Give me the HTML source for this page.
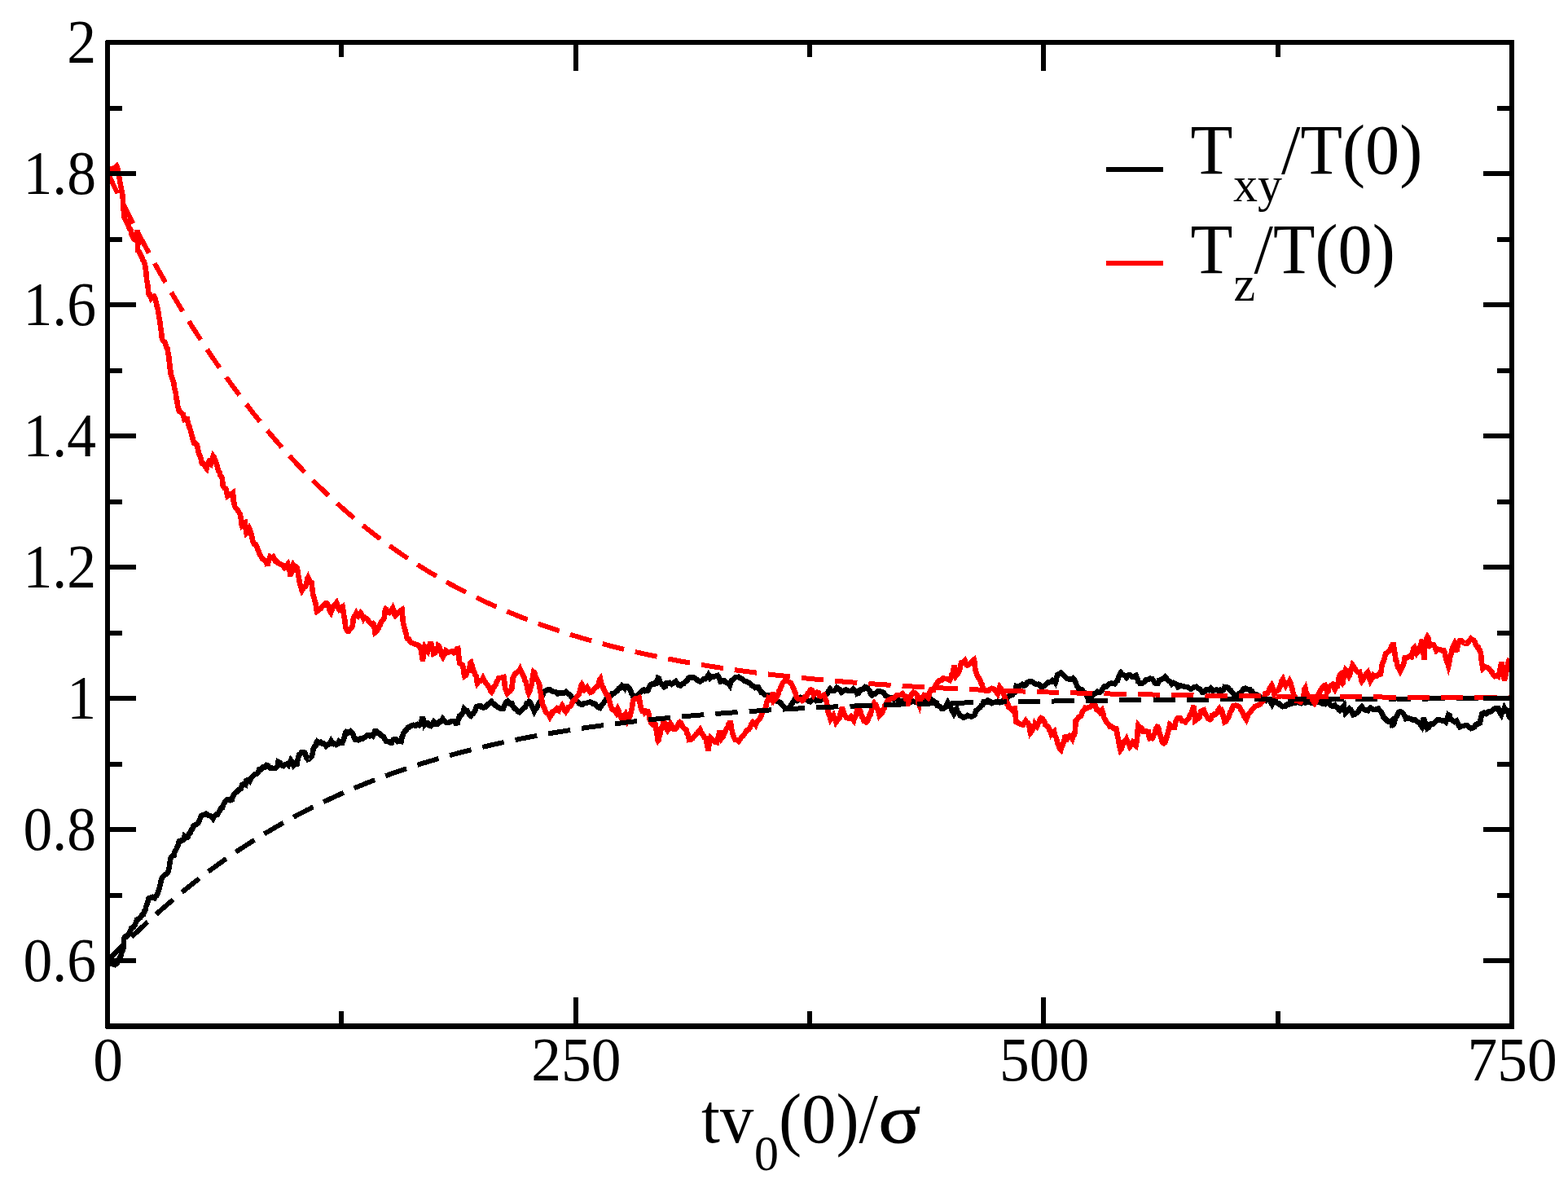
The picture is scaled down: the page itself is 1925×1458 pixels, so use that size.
<!DOCTYPE html>
<html lang="en"><head><meta charset="utf-8"><title>Temperature relaxation</title>
<style>html,body{margin:0;padding:0;background:#fff}body{width:1925px;height:1458px;overflow:hidden}svg{display:block}text{font-family:"Liberation Serif","DejaVu Serif",serif;fill:#000}</style></head><body>
<svg width="1925" height="1458" viewBox="0 0 1925 1458">
<rect width="1925" height="1458" fill="#fff"/>
<g clip-path="url(#clip)">
<defs><clipPath id="clip"><rect x="132.0" y="52.0" width="1724.0" height="1207.5"/></clipPath></defs>
<path d="M132.1,1182.1 L134.3,1182.4 L136.5,1183.1 L138.7,1183.3 L141.2,1184.0 L143.7,1182.1 L144.9,1179.5 L146.2,1177.1 L147.4,1174.9 L148.7,1172.1 L149.5,1168.7 L150.2,1167.2 L151.0,1165.0 L151.8,1162.1 L151.8,1160.5 L151.8,1155.9 L151.8,1154.1 L151.8,1152.2 L153.4,1149.7 L154.9,1149.7 L156.8,1148.1 L158.7,1144.7 L159.9,1143.2 L161.2,1139.1 L162.4,1138.4 L163.9,1137.8 L165.3,1135.7 L166.8,1132.2 L167.4,1130.8 L168.0,1128.5 L170.2,1127.6 L172.4,1126.0 L174.2,1123.1 L176.1,1122.2 L176.9,1118.7 L177.8,1118.2 L178.6,1116.0 L179.4,1112.2 L180.3,1110.1 L181.1,1108.5 L181.7,1105.7 L182.4,1103.0 L183.0,1102.3 L185.2,1101.6 L187.3,1101.0 L189.8,1102.3 L191.1,1100.0 L192.3,1099.2 L193.6,1096.1 L194.4,1093.6 L195.2,1091.5 L196.1,1088.6 L196.7,1085.7 L197.3,1083.2 L197.9,1079.8 L198.9,1077.8 L199.8,1076.1 L202.3,1073.6 L204.8,1072.4 L205.6,1071.8 L206.5,1069.7 L207.3,1066.1 L207.7,1064.7 L208.1,1061.8 L208.5,1058.6 L209.2,1055.0 L209.8,1052.4 L211.6,1050.4 L213.5,1049.9 L214.1,1047.2 L214.8,1044.5 L215.4,1043.7 L216.4,1042.4 L217.5,1039.2 L218.5,1037.5 L219.1,1036.0 L219.8,1032.5 L222.2,1031.5 L224.7,1031.2 L225.7,1030.1 L226.6,1026.2 L228.5,1027.9 L230.4,1027.5 L231.9,1023.5 L233.5,1022.5 L234.8,1018.7 L236.1,1017.9 L237.4,1013.8 L239.5,1012.4 L241.6,1011.3 L243.2,1010.2 L244.9,1006.3 L246.0,1004.0 L247.1,1001.1 L248.2,1000.5 L250.7,1000.0 L253.2,998.8 L255.7,1000.9 L258.2,1001.3 L259.8,1002.3 L261.5,1004.6 L262.9,1001.7 L264.3,1000.8 L265.7,999.6 L267.0,999.4 L268.4,997.1 L269.8,994.6 L271.5,991.8 L273.1,991.3 L274.0,988.1 L274.8,986.3 L276.5,983.5 L278.1,981.7 L279.8,981.4 L282.3,982.2 L284.8,981.4 L285.6,978.2 L286.4,977.1 L287.3,974.7 L289.4,972.9 L291.4,971.4 L293.5,968.8 L295.6,968.1 L296.4,966.3 L297.2,963.1 L299.3,962.0 L301.4,963.1 L301.8,961.0 L302.2,958.1 L304.3,957.3 L306.4,958.9 L307.5,956.7 L308.6,954.2 L309.7,953.1 L312.2,950.7 L314.7,949.8 L316.4,948.7 L318.0,944.8 L319.7,944.9 L321.4,943.1 L323.3,941.1 L325.2,941.5 L327.2,939.0 L329.2,939.8 L331.3,942.3 L333.4,942.4 L335.5,943.1 L338.0,942.9 L340.5,940.6 L341.0,938.1 L341.6,934.8 L343.5,935.7 L345.5,939.0 L347.9,940.0 L350.4,938.1 L352.1,937.7 L353.8,939.0 L354.9,936.3 L356.0,935.9 L357.1,933.1 L358.2,934.6 L359.3,936.4 L360.4,939.0 L362.5,936.9 L364.6,937.3 L365.2,933.4 L365.8,932.1 L366.4,928.4 L367.1,926.5 L368.7,925.1 L370.4,923.2 L372.5,923.2 L374.5,924.0 L375.4,926.8 L376.2,929.8 L377.9,932.0 L379.5,931.5 L381.2,929.8 L382.9,928.2 L383.4,925.6 L384.0,923.7 L384.5,919.8 L386.2,916.4 L387.8,914.9 L388.7,911.3 L389.5,909.9 L391.6,911.5 L393.7,910.7 L395.3,912.5 L397.0,912.4 L398.7,913.3 L400.3,915.7 L402.4,913.5 L404.5,913.2 L405.5,911.8 L406.5,909.6 L408.0,912.4 L409.5,913.2 L411.1,912.7 L412.8,914.0 L414.4,913.3 L416.1,909.9 L418.2,911.8 L420.3,911.5 L421.1,909.6 L421.9,906.9 L422.8,904.9 L423.6,901.5 L424.4,899.1 L425.2,898.2 L427.7,899.2 L430.2,897.4 L431.9,898.7 L433.6,901.6 L434.8,905.1 L436.1,907.4 L438.1,907.1 L440.2,908.2 L442.7,906.5 L445.2,906.7 L447.7,904.9 L449.4,903.9 L451.0,902.4 L452.7,902.2 L454.3,903.2 L456.0,902.2 L457.7,903.2 L458.9,901.0 L460.2,897.4 L462.2,897.4 L464.3,899.9 L466.0,900.3 L467.6,902.4 L469.3,903.4 L471.0,904.1 L472.1,907.0 L473.2,908.3 L474.3,909.9 L476.8,910.0 L479.3,911.5 L480.9,911.4 L482.6,907.9 L484.3,907.4 L486.3,907.2 L488.4,909.9 L490.5,909.2 L492.6,909.9 L493.1,907.5 L493.7,904.1 L494.2,903.2 L495.3,900.0 L496.5,898.4 L497.6,896.6 L499.2,895.4 L500.9,892.7 L502.5,892.4 L505.0,890.8 L507.5,889.9 L510.0,890.7 L512.5,889.1 L514.4,890.2 L516.2,888.5 L517.0,886.0 L517.9,883.2 L518.7,879.7 L519.3,882.5 L519.9,883.6 L520.6,885.8 L521.3,889.2 L523.1,887.0 L524.9,887.2 L526.8,890.3 L528.7,891.0 L530.5,889.1 L532.4,886.0 L534.9,888.6 L537.4,888.5 L539.3,885.8 L541.1,886.0 L542.4,884.5 L543.6,882.2 L545.5,884.4 L547.4,886.6 L549.9,887.0 L552.4,886.0 L554.9,885.1 L557.4,885.4 L559.5,887.8 L561.7,887.2 L562.5,883.0 L563.4,881.5 L564.2,878.5 L565.8,878.0 L567.3,876.0 L568.2,875.1 L569.0,872.6 L569.8,869.8 L571.7,871.6 L573.6,872.3 L575.0,875.2 L576.5,877.7 L577.9,878.5 L579.4,876.4 L580.8,875.7 L582.3,873.5 L583.1,872.6 L583.9,870.5 L584.8,867.3 L587.3,866.4 L589.8,866.0 L591.6,868.1 L593.5,868.5 L596.0,867.7 L598.5,864.8 L601.0,863.1 L603.5,861.0 L605.1,863.1 L606.8,864.0 L608.5,866.0 L611.0,867.8 L613.5,869.1 L615.6,869.8 L617.8,869.8 L618.9,866.0 L619.9,865.2 L620.9,862.3 L623.4,860.4 L625.9,863.5 L628.4,863.5 L629.7,866.8 L630.9,868.4 L632.2,869.8 L634.0,870.9 L635.9,873.4 L637.8,874.1 L639.6,872.5 L641.5,870.2 L643.4,868.5 L644.9,867.7 L646.5,863.5 L648.1,863.7 L649.6,861.0 L651.2,862.1 L652.7,866.0 L653.8,868.6 L654.8,870.5 L655.8,872.7 L657.2,869.9 L658.6,869.1 L659.9,866.3 L661.2,863.8 L662.4,861.7 L663.7,860.1 L664.9,856.4 L666.3,852.9 L667.7,849.4 L669.1,848.1 L672.0,846.6 L674.9,846.4 L677.4,848.2 L679.9,848.9 L682.4,849.2 L684.9,851.4 L687.4,850.0 L689.9,850.5 L692.4,850.9 L694.9,848.9 L696.9,851.0 L699.0,852.2 L700.7,854.1 L702.3,856.4 L704.4,859.2 L706.5,859.7 L708.6,860.8 L710.6,863.0 L712.7,864.3 L714.8,864.7 L717.3,862.9 L719.8,863.0 L722.3,862.0 L724.8,861.4 L727.7,863.5 L730.6,863.8 L732.5,866.7 L734.5,868.3 L736.4,868.8 L738.1,866.3 L739.7,864.6 L741.4,862.2 L743.1,859.7 L744.7,857.2 L746.4,856.4 L748.1,854.7 L749.7,854.1 L751.4,851.4 L753.9,851.2 L756.4,848.9 L758.0,847.4 L759.7,844.7 L761.8,844.4 L763.8,841.4 L765.5,842.4 L767.2,844.7 L768.4,842.5 L769.7,842.2 L771.3,843.7 L773.0,845.6 L774.2,847.8 L775.5,851.4 L776.3,852.2 L777.1,854.7 L779.2,854.0 L781.3,853.9 L783.0,852.9 L784.6,851.1 L786.3,849.7 L788.4,847.5 L790.4,846.4 L792.5,848.2 L794.6,848.1 L795.7,847.3 L796.8,843.5 L797.9,841.4 L800.4,839.3 L802.9,839.7 L804.6,837.5 L806.2,838.1 L807.1,836.3 L807.9,832.3 L809.0,832.8 L810.1,836.8 L811.2,838.1 L812.6,840.0 L814.0,840.8 L815.4,843.1 L816.8,842.3 L818.1,838.3 L819.5,838.1 L822.0,837.8 L824.5,839.7 L826.2,838.4 L827.8,837.2 L829.5,836.2 L831.2,838.1 L833.2,840.7 L835.3,841.4 L837.4,839.4 L839.5,838.9 L841.6,836.2 L843.6,835.6 L844.9,832.1 L846.1,831.4 L848.6,831.8 L851.1,831.4 L853.2,832.5 L855.3,833.9 L857.4,835.6 L859.4,836.4 L861.5,835.2 L863.6,833.1 L865.7,833.2 L867.7,831.4 L868.7,830.3 L869.8,828.3 L870.8,829.9 L871.9,832.3 L874.0,830.5 L876.1,830.6 L878.5,829.7 L881.0,828.9 L882.1,830.5 L883.3,832.5 L884.4,836.4 L886.9,835.9 L889.4,835.6 L891.0,837.5 L892.7,838.1 L894.3,838.8 L896.0,841.2 L896.8,838.5 L897.7,836.5 L898.5,834.8 L900.6,833.7 L902.7,831.4 L904.7,831.1 L906.8,830.6 L908.9,832.2 L911.0,833.1 L913.5,835.5 L915.9,836.4 L918.4,837.3 L920.9,838.9 L923.0,841.4 L925.1,842.2 L927.2,843.9 L929.2,843.1 L930.9,843.5 L932.6,846.4 L934.7,849.8 L936.7,850.5 L938.8,852.5 L940.9,853.0 L943.4,853.6 L945.9,856.4 L947.9,856.2 L950.0,856.4 L952.2,858.4 L954.4,860.9 L956.6,861.4 L958.3,862.6 L960.0,864.9 L961.6,866.3 L964.1,869.1 L966.6,869.7 L968.3,868.9 L969.9,867.7 L971.6,864.7 L973.0,862.4 L974.4,860.7 L975.8,858.0 L977.4,858.0 L979.1,859.7 L981.2,858.7 L983.2,856.4 L985.5,857.9 L987.7,857.9 L989.9,858.0 L992.4,860.3 L994.9,861.4 L997.4,858.8 L999.9,858.0 L1002.4,860.1 L1004.9,859.7 L1007.1,859.5 L1009.3,857.8 L1011.5,854.7 L1013.2,853.2 L1014.8,852.2 L1016.5,849.7 L1017.7,847.1 L1019.0,845.6 L1021.1,848.0 L1023.1,848.1 L1025.2,847.0 L1027.3,843.9 L1029.2,845.4 L1031.2,846.5 L1033.1,849.7 L1035.6,847.9 L1038.1,846.4 L1040.6,847.4 L1043.1,848.1 L1045.2,847.6 L1047.2,845.6 L1048.9,847.5 L1050.6,848.0 L1052.2,851.4 L1054.2,850.6 L1056.1,846.7 L1058.1,846.4 L1060.1,845.6 L1062.2,843.1 L1064.3,843.7 L1066.4,846.4 L1067.7,848.1 L1069.1,851.7 L1070.5,853.0 L1072.6,851.1 L1074.7,851.4 L1077.2,848.7 L1079.7,848.1 L1082.2,848.9 L1084.6,849.7 L1086.0,852.0 L1087.4,854.1 L1088.8,854.7 L1091.7,856.1 L1094.6,856.4 L1097.1,858.5 L1099.6,858.0 L1102.4,858.8 L1105.2,861.0 L1107.9,860.5 L1110.7,859.6 L1113.5,860.2 L1116.2,861.4 L1118.5,861.4 L1120.7,860.7 L1122.9,861.4 L1125.4,861.6 L1127.9,860.9 L1130.4,860.2 L1132.9,859.7 L1135.6,860.2 L1138.4,858.8 L1141.2,858.0 L1143.4,858.6 L1145.6,859.9 L1147.8,861.4 L1149.2,864.0 L1150.6,865.9 L1152.0,866.3 L1154.1,867.1 L1156.1,869.7 L1158.2,869.9 L1160.3,868.0 L1161.4,867.5 L1162.5,864.2 L1163.6,862.2 L1165.0,864.9 L1166.4,866.3 L1167.8,869.7 L1168.9,872.0 L1170.0,874.1 L1171.1,876.3 L1172.2,874.4 L1173.3,870.5 L1174.4,869.7 L1175.8,873.8 L1177.2,875.3 L1178.6,878.0 L1180.7,878.9 L1182.7,880.5 L1185.2,880.1 L1187.7,878.0 L1190.2,879.0 L1192.7,879.6 L1194.4,878.8 L1196.0,878.0 L1197.1,876.3 L1198.2,872.2 L1199.4,871.3 L1201.4,869.8 L1203.5,868.0 L1204.9,865.5 L1206.3,864.9 L1207.7,861.4 L1210.2,861.8 L1212.7,859.7 L1215.1,860.7 L1217.6,863.0 L1220.1,862.1 L1222.6,861.4 L1225.1,860.6 L1227.6,862.2 L1230.1,860.7 L1232.6,859.7 L1234.3,859.0 L1235.9,857.6 L1237.6,854.7 L1240.1,853.8 L1242.6,853.0 L1244.2,850.8 L1245.9,849.7 L1246.5,846.3 L1247.0,845.1 L1247.6,842.2 L1250.1,843.1 L1252.5,841.4 L1254.8,840.0 L1257.0,841.7 L1259.2,840.6 L1260.9,837.8 L1262.5,836.9 L1264.2,836.4 L1265.0,836.4 L1267.5,836.8 L1270.0,838.9 L1272.5,839.9 L1275.0,839.7 L1277.0,841.3 L1279.1,843.9 L1280.8,842.1 L1282.4,841.5 L1284.1,839.7 L1286.6,837.3 L1289.1,837.2 L1290.8,836.7 L1292.4,834.8 L1294.1,835.3 L1295.7,837.6 L1296.4,835.6 L1297.0,832.3 L1297.6,829.7 L1298.2,828.1 L1300.3,826.9 L1302.4,825.6 L1304.5,827.5 L1306.5,829.8 L1308.2,831.1 L1309.9,833.1 L1311.9,833.2 L1314.0,833.9 L1315.7,833.2 L1317.4,832.3 L1318.5,833.2 L1319.6,835.3 L1320.7,838.1 L1321.8,840.7 L1322.9,842.9 L1324.0,844.7 L1326.1,845.6 L1328.2,846.4 L1330.2,849.5 L1332.3,850.5 L1333.7,852.8 L1335.1,855.5 L1336.5,856.4 L1338.7,853.9 L1340.9,853.8 L1343.1,851.4 L1345.2,851.1 L1347.3,848.9 L1349.8,849.7 L1352.3,848.1 L1353.6,845.6 L1355.0,843.6 L1356.4,842.2 L1358.9,842.3 L1361.4,839.7 L1363.9,838.5 L1366.4,838.9 L1368.5,839.2 L1370.5,836.4 L1371.8,835.5 L1373.0,832.3 L1374.0,828.9 L1375.0,827.0 L1376.0,825.6 L1377.4,827.5 L1378.9,828.1 L1380.9,829.0 L1383.0,831.4 L1385.1,828.6 L1387.2,828.1 L1389.2,830.3 L1391.3,830.6 L1393.0,829.5 L1394.6,828.9 L1395.5,832.3 L1396.3,832.8 L1397.1,836.4 L1398.4,837.4 L1399.6,838.9 L1402.1,838.6 L1404.6,837.2 L1407.1,834.1 L1409.6,833.9 L1412.1,832.6 L1414.6,833.1 L1416.3,835.6 L1417.9,838.2 L1419.6,838.9 L1421.2,838.9 L1422.9,835.0 L1424.6,834.8 L1426.5,833.4 L1428.5,832.8 L1430.4,830.6 L1431.8,832.3 L1433.2,834.5 L1434.5,835.6 L1436.6,836.7 L1438.7,839.7 L1440.8,838.0 L1442.9,838.9 L1444.5,839.8 L1446.2,843.1 L1449.1,841.3 L1452.0,842.2 L1454.9,842.8 L1457.8,843.1 L1459.9,844.4 L1462.0,845.6 L1464.1,844.5 L1466.1,843.1 L1468.6,842.8 L1471.1,844.7 L1472.8,845.4 L1474.4,847.2 L1476.1,849.7 L1478.6,849.1 L1481.1,846.4 L1483.6,847.0 L1486.1,844.7 L1488.6,847.3 L1491.1,847.2 L1493.6,846.4 L1496.1,848.1 L1498.1,846.7 L1500.2,848.1 L1501.9,846.9 L1503.5,843.1 L1505.6,843.4 L1507.7,843.9 L1509.4,846.6 L1511.0,847.3 L1512.7,849.7 L1514.1,851.3 L1515.4,853.1 L1516.8,854.7 L1518.9,852.8 L1521.0,851.4 L1523.1,850.0 L1525.1,848.1 L1527.2,844.9 L1529.3,844.7 L1531.8,846.2 L1534.3,846.4 L1535.7,849.1 L1537.1,848.8 L1538.4,851.4 L1541.4,852.1 L1544.3,853.0 L1546.8,855.4 L1549.2,856.4 L1551.7,857.7 L1554.2,859.7 L1555.9,857.9 L1557.6,858.0 L1558.9,859.2 L1560.3,862.5 L1561.7,864.7 L1563.8,861.1 L1565.9,860.5 L1567.9,862.9 L1570.0,863.0 L1571.7,865.3 L1573.3,866.4 L1575.0,867.2 L1577.5,867.0 L1580.0,864.7 L1582.5,864.6 L1585.0,863.8 L1587.2,863.0 L1589.4,863.0 L1591.6,862.2 L1594.4,861.9 L1597.2,863.1 L1599.9,861.4 L1602.7,862.5 L1605.5,861.2 L1608.2,862.2 L1611.0,863.1 L1613.8,862.4 L1616.5,861.4 L1618.3,861.4 L1620.0,859.7 L1621.9,862.6 L1623.7,863.5 L1626.9,864.1 L1629.0,862.6 L1631.2,861.6 L1632.8,865.0 L1634.3,866.0 L1636.5,866.8 L1638.7,865.4 L1640.6,867.5 L1642.4,868.5 L1643.7,871.1 L1644.9,872.2 L1646.6,870.9 L1648.3,867.8 L1649.9,866.0 L1650.5,869.8 L1651.2,870.9 L1651.9,874.8 L1653.5,873.0 L1655.1,871.5 L1656.8,869.7 L1658.2,870.7 L1659.7,874.3 L1661.1,877.2 L1663.6,876.4 L1666.1,874.7 L1668.0,872.6 L1669.9,868.9 L1671.7,867.2 L1673.9,870.4 L1676.1,871.0 L1677.7,872.1 L1679.2,872.2 L1680.8,869.9 L1682.3,868.5 L1684.8,870.2 L1687.3,871.0 L1689.8,870.5 L1692.3,869.7 L1694.2,872.3 L1696.1,874.7 L1697.3,876.4 L1698.5,880.4 L1699.8,880.9 L1701.5,883.0 L1703.1,884.9 L1704.8,885.9 L1706.3,886.1 L1707.9,884.7 L1708.7,888.2 L1709.6,887.4 L1710.5,889.3 L1711.2,888.8 L1711.9,886.6 L1712.7,882.7 L1713.5,880.9 L1715.2,878.1 L1716.8,874.6 L1718.5,873.5 L1720.7,873.8 L1722.9,875.9 L1723.9,877.7 L1724.9,878.9 L1726.0,882.2 L1729.1,881.4 L1732.2,882.2 L1734.7,884.0 L1737.2,883.4 L1739.7,885.4 L1742.2,887.2 L1744.1,889.7 L1745.9,892.2 L1746.4,890.8 L1746.9,886.7 L1747.3,885.2 L1747.8,880.9 L1748.7,884.0 L1749.5,887.1 L1750.4,887.5 L1751.3,891.7 L1752.2,894.0 L1753.8,892.9 L1755.5,888.9 L1757.1,888.4 L1759.6,888.5 L1762.1,885.9 L1764.6,883.7 L1767.1,883.4 L1769.3,884.0 L1771.5,884.7 L1773.4,884.3 L1775.2,885.9 L1776.3,883.0 L1777.3,880.4 L1778.3,877.2 L1779.6,877.9 L1780.8,882.7 L1782.1,883.4 L1783.9,884.4 L1785.8,885.9 L1788.3,884.7 L1789.6,887.2 L1790.8,890.0 L1792.1,892.2 L1794.5,891.1 L1797.0,890.9 L1799.2,890.0 L1801.4,890.3 L1803.6,892.6 L1805.8,894.0 L1807.9,893.3 L1810.1,892.2 L1811.7,889.6 L1813.2,888.4 L1815.1,888.4 L1817.0,887.2 L1817.6,883.8 L1818.2,880.1 L1818.9,878.0 L1819.5,875.9 L1822.0,874.6 L1824.5,875.9 L1827.0,873.7 L1829.5,873.5 L1831.9,872.3 L1834.4,869.7 L1836.9,869.1 L1839.4,869.1 L1840.7,873.0 L1841.9,875.2 L1843.1,877.0 L1844.4,872.9 L1845.7,872.8 L1847.0,868.8 L1848.8,871.7 L1850.7,872.2 L1851.5,873.4 L1852.3,878.4 L1853.1,879.7 L1855.0,882.0 L1856.9,884.7" fill="none" shape-rendering="crispEdges" stroke="#000" stroke-width="6.6" stroke-linejoin="miter" stroke-miterlimit="4" />
<path d="M132.1,206.5 L134.6,207.7 L137.2,207.8 L139.7,206.5 L141.6,206.4 L143.5,204.0 L144.1,205.1 L144.7,209.1 L145.3,211.2 L145.8,214.1 L146.3,217.5 L146.7,219.4 L147.2,223.7 L147.7,225.2 L148.3,228.5 L148.8,230.3 L149.3,233.6 L149.7,236.3 L150.1,237.8 L150.5,240.8 L150.9,244.9 L151.1,248.0 L151.2,249.6 L151.3,252.4 L151.4,254.8 L151.7,258.4 L151.9,260.0 L152.2,261.9 L152.4,266.1 L153.5,269.0 L154.5,270.5 L155.5,272.3 L156.6,275.0 L157.7,277.0 L158.8,280.3 L159.9,281.0 L160.7,283.5 L161.6,287.6 L162.4,289.8 L163.3,291.2 L164.3,293.5 L167.1,294.7 L167.5,292.0 L167.8,289.3 L168.2,285.3 L168.5,282.9 L168.8,284.6 L169.0,288.7 L169.3,292.4 L169.5,294.7 L169.4,298.1 L169.2,300.8 L169.0,304.5 L168.9,307.2 L170.3,308.3 L171.6,310.4 L173.0,313.4 L174.2,315.4 L175.5,319.4 L176.7,320.9 L177.3,322.5 L177.8,324.8 L178.3,327.2 L178.9,330.9 L179.1,332.0 L179.4,335.2 L179.6,338.6 L179.9,340.9 L180.2,344.3 L180.6,345.4 L181.0,348.0 L181.4,350.8 L181.7,352.7 L182.0,355.2 L182.3,359.2 L182.6,360.8 L183.7,361.2 L184.6,363.9 L185.6,366.2 L187.4,364.3 L189.3,363.7 L190.1,365.1 L191.0,369.6 L191.8,371.2 L192.4,374.6 L193.1,377.8 L193.7,378.9 L194.3,382.4 L194.8,385.4 L195.2,389.3 L195.7,391.1 L196.2,393.7 L196.5,397.8 L196.9,398.3 L197.3,403.5 L197.7,404.9 L198.0,406.4 L198.3,410.2 L198.6,411.9 L198.9,416.1 L200.7,418.9 L202.4,419.8 L203.4,422.9 L204.5,426.3 L205.5,427.3 L206.0,431.0 L206.5,434.3 L206.9,435.9 L207.4,438.5 L207.7,442.8 L208.0,444.9 L208.3,446.5 L208.6,449.8 L208.9,454.0 L209.3,455.0 L209.6,457.3 L209.9,461.0 L210.9,462.2 L212.0,465.9 L213.0,468.5 L213.5,470.1 L213.9,474.8 L214.4,477.3 L214.9,478.4 L215.3,480.4 L215.8,482.9 L216.3,486.9 L216.7,489.7 L217.2,491.2 L217.7,494.8 L218.1,498.1 L218.6,499.6 L219.2,501.4 L219.9,504.6 L222.4,506.3 L224.8,508.4 L225.3,511.6 L225.8,512.4 L226.3,514.6 L228.1,513.8 L229.8,514.0 L230.5,517.5 L231.1,519.6 L231.7,522.2 L232.3,523.3 L233.0,526.0 L233.7,527.5 L234.5,530.1 L235.4,533.9 L236.2,536.2 L236.8,539.7 L237.4,541.6 L238.1,543.7 L239.9,544.2 L241.8,546.2 L242.4,548.5 L243.1,551.7 L243.7,554.9 L244.5,557.8 L245.3,559.2 L246.2,561.1 L246.8,563.8 L247.4,567.1 L248.0,568.6 L249.6,568.7 L251.2,571.1 L252.4,573.4 L253.6,574.9 L254.4,571.5 L255.2,569.4 L256.0,567.4 L256.9,565.5 L257.4,565.4 L258.0,570.0 L258.5,570.2 L259.4,567.0 L260.2,565.7 L261.0,562.8 L261.8,559.9 L262.8,561.2 L263.8,564.2 L264.9,566.1 L265.7,569.0 L266.5,571.8 L267.4,574.9 L268.4,578.4 L269.4,579.2 L270.5,583.6 L271.7,585.1 L273.0,587.3 L273.2,591.1 L273.4,592.1 L273.6,596.1 L275.5,599.0 L277.3,599.8 L278.0,601.8 L278.6,606.2 L279.2,608.5 L281.1,606.9 L282.9,607.3 L284.5,605.9 L286.1,604.8 L286.2,607.0 L286.4,608.5 L286.5,612.9 L286.7,614.8 L287.3,617.2 L287.9,620.3 L288.6,622.2 L290.1,624.2 L291.7,626.0 L293.2,628.6 L294.8,631.0 L295.2,633.5 L295.6,635.3 L296.0,638.4 L296.4,642.8 L296.8,644.2 L298.8,641.6 L301.0,640.9 L301.3,644.8 L301.5,647.5 L301.8,649.2 L302.0,652.7 L302.4,654.3 L303.5,653.1 L304.8,650.8 L306.0,648.5 L306.8,650.3 L307.7,652.9 L308.5,655.9 L309.1,658.4 L309.8,661.1 L310.4,664.6 L312.2,667.9 L314.1,668.4 L314.9,670.0 L315.8,672.2 L316.6,674.6 L317.4,676.4 L318.3,679.7 L319.1,680.8 L320.7,683.3 L322.2,685.8 L324.1,687.2 L326.0,688.3 L326.8,689.7 L327.6,691.8 L328.5,694.5 L329.2,690.5 L330.0,688.1 L330.8,685.4 L331.6,683.3 L333.4,684.4 L335.3,683.3 L336.6,685.8 L337.8,688.3 L339.4,688.4 L340.9,690.8 L343.4,691.9 L345.8,693.2 L347.5,693.7 L349.1,696.5 L351.2,694.6 L353.3,692.4 L354.0,695.0 L354.8,699.1 L355.6,700.1 L356.3,704.7 L356.9,704.8 L357.7,703.1 L358.2,702.6 L358.8,698.9 L359.4,694.5 L359.9,693.2 L361.6,695.5 L363.2,695.3 L364.9,697.4 L365.4,700.1 L365.9,702.6 L366.4,707.8 L366.9,708.8 L367.4,713.1 L368.2,716.8 L369.1,718.6 L369.9,722.4 L370.7,724.7 L372.1,722.5 L373.5,720.2 L374.9,719.8 L375.7,718.1 L376.5,714.4 L377.4,710.1 L378.2,708.7 L379.6,711.8 L381.0,713.8 L382.4,714.8 L382.7,716.5 L383.0,718.7 L383.4,723.1 L383.7,724.4 L384.0,728.1 L384.9,731.7 L385.7,733.8 L386.5,737.5 L387.4,739.7 L387.8,742.7 L388.2,746.0 L388.6,748.8 L389.0,750.5 L390.7,749.5 L392.3,748.0 L394.0,746.4 L395.7,744.2 L397.3,743.1 L399.4,740.7 L401.5,740.6 L402.7,742.3 L404.0,746.4 L405.1,750.4 L406.1,751.9 L407.0,749.0 L408.0,747.4 L408.9,744.8 L409.8,743.1 L411.5,741.8 L413.1,739.7 L414.2,742.6 L415.3,746.4 L416.4,748.1 L418.5,746.2 L420.6,744.7 L421.1,747.3 L421.6,751.2 L422.1,754.4 L422.6,758.0 L423.1,759.7 L423.5,762.0 L423.9,766.7 L424.3,769.9 L424.8,771.3 L426.4,774.4 L428.1,774.6 L429.5,771.9 L430.8,771.0 L432.2,769.7 L432.7,767.8 L433.2,765.3 L433.7,760.3 L434.2,758.7 L434.7,756.4 L436.0,755.4 L437.2,753.0 L438.5,755.5 L439.7,756.4 L441.2,754.4 L442.7,752.2 L443.9,753.8 L445.1,756.9 L446.4,759.7 L448.0,757.9 L449.7,758.9 L451.4,760.4 L453.0,763.0 L454.7,764.5 L456.3,766.3 L457.3,765.6 L458.1,765.2 L458.8,765.9 L459.2,768.1 L459.6,770.2 L460.1,773.1 L460.5,776.3 L461.9,775.2 L463.3,772.8 L464.6,771.3 L465.8,767.6 L466.9,766.7 L468.0,763.0 L469.6,761.6 L471.3,759.7 L471.7,758.3 L472.1,754.1 L472.5,751.6 L472.9,748.2 L473.5,747.3 L474.3,747.8 L475.3,750.7 L476.3,751.4 L477.9,752.0 L479.6,749.7 L480.9,748.5 L482.1,746.4 L482.9,748.5 L483.8,749.6 L484.6,754.3 L485.4,755.5 L487.5,753.1 L489.6,751.4 L491.7,749.4 L493.7,748.1 L493.9,749.4 L494.1,752.0 L494.2,755.7 L494.4,760.1 L494.6,761.4 L495.2,765.1 L495.9,768.0 L496.6,770.8 L497.2,772.6 L497.9,776.3 L498.6,777.8 L499.3,781.6 L500.0,783.7 L501.7,784.1 L503.3,787.3 L505.0,788.7 L507.1,789.6 L509.1,790.5 L511.2,791.2 L513.7,792.0 L516.2,795.0 L516.7,796.4 L517.1,800.3 L517.6,802.0 L518.0,806.2 L518.5,807.9 L519.0,811.2 L519.3,808.4 L519.7,805.7 L520.1,802.1 L520.4,798.8 L520.8,794.7 L521.3,793.2 L522.4,794.5 L523.7,798.9 L524.9,799.9 L525.7,796.8 L526.5,794.3 L527.3,792.4 L528.1,790.1 L528.9,787.5 L529.6,791.3 L530.2,792.9 L530.9,797.8 L531.5,798.0 L532.2,802.4 L534.2,801.4 L536.2,798.7 L536.8,796.8 L537.4,795.7 L538.0,792.5 L539.1,793.5 L540.1,797.2 L541.1,798.7 L542.0,803.0 L542.8,805.0 L543.6,806.2 L544.9,803.4 L546.1,802.9 L547.4,798.7 L549.9,800.7 L552.4,799.9 L554.9,799.4 L557.4,801.2 L559.0,800.5 L560.7,796.6 L562.3,796.2 L562.6,797.9 L563.0,802.9 L563.3,805.6 L563.6,809.2 L563.9,811.1 L564.2,813.7 L566.1,814.9 L567.9,816.2 L568.4,818.2 L568.9,821.9 L569.4,825.9 L569.9,827.6 L570.4,829.9 L571.9,828.9 L573.4,824.8 L574.8,823.6 L575.7,821.5 L576.6,818.7 L577.4,813.9 L578.2,813.2 L579.0,816.2 L579.7,817.1 L580.4,820.0 L581.0,823.6 L582.3,824.4 L583.5,828.3 L584.8,829.9 L585.2,831.7 L585.6,837.1 L586.0,838.5 L587.9,835.9 L589.8,836.1 L591.3,835.2 L592.9,832.4 L594.4,835.6 L596.0,837.4 L597.9,840.1 L599.7,842.3 L601.0,844.8 L602.2,847.8 L603.5,849.2 L604.7,847.3 L606.0,843.5 L607.2,842.3 L608.5,840.7 L609.7,836.9 L611.0,835.1 L612.2,832.4 L615.3,831.8 L618.4,831.1 L618.8,835.1 L619.2,836.3 L619.6,840.4 L619.9,840.8 L620.3,844.8 L621.1,846.4 L622.0,849.5 L622.8,851.1 L624.7,849.3 L626.5,847.9 L628.4,844.8 L628.7,840.8 L629.0,839.5 L629.4,836.4 L629.7,832.4 L630.9,829.2 L632.2,827.1 L633.4,826.1 L635.1,824.7 L636.7,824.2 L638.4,821.2 L639.6,824.0 L640.9,825.9 L642.1,828.6 L643.4,831.6 L644.6,835.4 L645.9,837.4 L646.5,840.2 L647.1,842.9 L647.7,845.9 L648.4,849.6 L649.0,850.9 L649.9,849.2 L650.9,846.5 L651.8,841.9 L652.7,839.8 L653.1,837.4 L653.5,835.4 L653.8,832.4 L654.2,830.4 L654.6,827.6 L655.2,824.7 L656.1,825.4 L657.2,829.5 L658.3,832.4 L659.6,834.4 L660.8,836.5 L662.1,839.8 L662.5,842.8 L662.9,847.1 L663.3,849.4 L663.7,850.3 L664.2,853.6 L664.6,857.3 L665.2,859.4 L665.8,863.4 L666.4,864.7 L667.1,867.3 L668.3,868.7 L669.6,872.4 L670.8,874.8 L672.3,875.7 L673.7,876.7 L675.2,879.7 L676.2,877.9 L677.2,877.1 L678.3,873.5 L680.8,872.5 L683.3,869.8 L684.5,871.7 L685.8,872.3 L687.2,869.1 L688.7,868.3 L690.1,866.0 L691.6,868.9 L693.0,871.8 L694.5,873.5 L696.2,871.3 L697.8,868.0 L699.5,867.3 L701.1,866.1 L702.8,861.6 L704.5,859.8 L706.1,858.4 L707.8,855.5 L709.5,853.6 L710.7,851.9 L711.9,848.6 L712.5,845.7 L713.1,842.5 L713.7,841.1 L714.4,840.0 L715.3,841.3 L716.3,844.8 L717.3,846.4 L719.0,844.4 L720.6,843.1 L722.0,845.8 L723.4,847.1 L724.8,849.7 L726.9,848.8 L728.9,846.4 L731.0,843.8 L733.1,843.1 L734.0,841.7 L735.0,839.4 L736.0,834.2 L736.9,833.1 L737.6,836.7 L738.3,838.9 L739.0,841.2 L739.7,843.1 L740.8,844.1 L742.0,848.2 L743.1,849.7 L744.5,852.2 L745.8,853.4 L747.2,854.7 L747.8,859.0 L748.5,861.9 L749.1,863.8 L749.7,866.3 L751.4,870.1 L753.0,871.3 L754.7,871.9 L756.3,874.4 L757.4,871.1 L758.3,869.6 L759.1,871.2 L759.9,873.5 L760.6,877.0 L761.4,878.0 L762.6,880.9 L763.8,883.0 L765.2,880.6 L766.6,877.8 L767.8,876.3 L768.6,878.5 L769.2,879.3 L769.9,882.8 L770.5,884.5 L771.6,882.7 L772.7,879.9 L773.8,878.0 L774.5,874.7 L775.3,871.4 L776.0,869.7 L776.3,865.7 L776.6,864.2 L776.9,861.6 L777.1,859.7 L779.2,857.6 L781.3,858.0 L783.0,857.2 L784.6,856.4 L785.1,858.6 L785.6,863.0 L786.1,865.2 L786.6,867.5 L787.1,869.7 L788.5,872.4 L789.9,872.3 L791.3,874.6 L793.4,872.7 L795.4,873.0 L796.1,875.8 L796.7,877.2 L797.3,881.9 L797.9,883.0 L798.8,885.2 L799.6,887.9 L802.1,889.9 L804.6,889.6 L805.0,891.7 L805.5,894.1 L806.0,898.5 L806.5,901.6 L806.9,903.1 L807.4,908.0 L807.9,909.1 L808.6,908.3 L809.2,904.8 L809.9,903.0 L810.6,900.4 L811.2,896.3 L812.1,892.7 L812.9,892.0 L813.7,889.5 L814.5,886.3 L817.0,887.9 L817.7,891.1 L818.3,892.5 L818.9,895.6 L819.6,896.6 L820.4,895.7 L821.2,894.0 L822.0,889.1 L822.9,887.9 L824.2,889.8 L825.6,891.8 L827.0,894.6 L829.1,894.6 L831.2,892.9 L832.3,889.6 L833.4,887.2 L834.5,886.3 L835.9,887.3 L837.3,889.6 L838.7,892.9 L840.7,894.4 L842.8,896.3 L843.6,900.3 L844.5,901.6 L845.3,903.8 L846.1,907.9 L848.2,907.6 L850.3,906.2 L851.7,904.1 L853.1,903.1 L854.4,901.2 L856.1,900.1 L857.8,897.2 L859.4,895.4 L860.8,898.6 L862.2,900.8 L863.6,902.9 L865.2,905.6 L866.9,906.2 L867.4,910.0 L867.9,913.4 L868.4,916.0 L868.9,917.5 L869.4,921.2 L869.8,918.2 L870.2,915.9 L870.7,912.9 L871.1,909.7 L871.5,907.0 L872.2,905.1 L873.3,906.1 L874.7,907.5 L876.1,909.6 L878.1,910.8 L880.2,911.2 L880.9,906.9 L881.5,905.2 L882.2,902.9 L882.9,900.5 L883.5,896.3 L884.2,899.8 L884.8,901.1 L885.4,902.9 L886.0,906.2 L887.4,904.6 L888.8,901.2 L890.2,897.9 L891.8,894.5 L893.5,892.9 L894.5,888.8 L895.5,888.5 L896.5,884.6 L897.1,887.8 L897.6,889.4 L898.2,895.1 L898.8,896.9 L899.3,899.6 L900.4,903.1 L901.5,906.0 L902.7,907.9 L904.7,908.0 L906.8,909.6 L908.7,907.4 L910.7,904.1 L912.6,902.9 L914.0,901.0 L915.4,898.3 L916.8,896.3 L918.9,895.5 L920.9,892.9 L922.0,889.6 L923.2,887.6 L924.3,886.3 L925.9,887.6 L927.6,889.6 L929.0,885.9 L930.4,884.9 L931.7,883.0 L933.1,881.6 L934.5,878.5 L935.9,874.6 L937.6,871.2 L939.2,869.7 L940.1,868.0 L940.9,863.5 L941.7,860.9 L942.5,859.4 L943.4,856.4 L945.5,857.4 L947.5,859.5 L947.9,856.3 L948.2,853.5 L948.5,851.2 L948.9,849.7 L949.1,851.3 L949.4,855.9 L949.7,855.8 L950.0,859.6 L951.7,858.1 L953.3,856.4 L954.4,853.0 L955.4,852.0 L956.4,847.4 L957.5,846.4 L958.6,843.2 L959.7,841.6 L960.8,838.1 L963.3,835.4 L965.8,835.6 L968.3,836.6 L970.8,838.1 L972.2,840.3 L973.5,843.6 L974.9,846.4 L975.8,849.5 L976.6,850.7 L977.4,854.7 L979.5,857.5 L981.6,858.0 L983.2,858.2 L984.9,859.7 L986.6,858.8 L988.2,855.3 L989.9,854.7 L991.6,851.0 L993.2,849.7 L994.5,847.1 L995.7,846.4 L996.8,847.4 L997.9,850.1 L999.0,853.0 L1001.1,850.3 L1003.2,849.7 L1004.6,850.1 L1006.0,854.1 L1007.4,854.7 L1009.4,854.0 L1011.5,853.0 L1012.6,855.8 L1013.7,858.6 L1014.8,861.4 L1015.2,865.2 L1015.7,865.8 L1016.1,868.7 L1016.5,873.0 L1017.3,876.0 L1018.2,876.5 L1019.0,880.5 L1019.8,883.0 L1021.5,880.8 L1023.1,878.3 L1024.3,881.8 L1025.4,882.0 L1026.5,886.2 L1027.9,884.3 L1029.2,882.4 L1030.6,881.3 L1031.3,878.9 L1032.0,874.6 L1032.6,874.1 L1033.3,872.0 L1033.9,868.0 L1034.8,870.9 L1035.6,874.0 L1036.4,876.3 L1037.8,879.0 L1039.2,880.7 L1040.6,881.3 L1042.7,881.4 L1044.8,879.6 L1046.4,882.1 L1048.0,884.2 L1048.9,880.9 L1049.7,880.5 L1050.6,878.2 L1051.4,874.6 L1052.2,872.5 L1053.1,868.6 L1053.8,868.0 L1054.7,870.3 L1055.6,871.7 L1056.4,873.3 L1057.2,876.3 L1058.3,879.9 L1059.4,881.0 L1060.5,884.6 L1062.2,884.7 L1063.9,886.3 L1065.1,885.0 L1066.4,881.3 L1067.5,877.2 L1068.6,876.9 L1069.7,873.0 L1070.5,869.8 L1071.4,867.4 L1072.2,864.8 L1073.1,863.2 L1074.1,864.8 L1075.2,864.9 L1076.3,868.0 L1077.2,869.3 L1078.0,873.0 L1078.8,874.7 L1079.7,878.0 L1081.3,876.1 L1083.0,874.6 L1084.2,871.0 L1085.5,869.7 L1086.3,866.2 L1087.1,865.4 L1088.0,863.0 L1089.6,860.0 L1091.3,859.0 L1093.0,858.0 L1095.5,856.9 L1097.9,856.4 L1100.4,853.5 L1102.9,853.0 L1105.4,853.1 L1107.9,851.4 L1110.0,854.2 L1112.1,854.7 L1112.5,856.2 L1112.9,861.4 L1113.3,862.5 L1113.7,866.3 L1114.4,864.5 L1115.0,860.0 L1115.6,859.6 L1116.2,856.4 L1117.9,855.4 L1119.6,851.2 L1121.2,849.7 L1123.7,850.4 L1126.2,853.0 L1126.5,855.2 L1126.9,859.4 L1127.2,861.9 L1127.5,862.6 L1128.2,864.4 L1128.5,865.1 L1129.1,862.1 L1129.7,860.2 L1130.4,856.4 L1132.4,856.1 L1134.5,853.0 L1137.0,853.7 L1139.5,856.4 L1140.3,854.6 L1141.2,850.0 L1142.0,848.0 L1142.8,846.4 L1144.5,846.5 L1146.2,846.4 L1147.3,843.4 L1148.4,841.1 L1149.5,839.7 L1150.9,837.7 L1152.3,836.3 L1153.6,834.8 L1155.7,834.8 L1157.8,832.3 L1160.3,832.9 L1162.8,833.1 L1164.4,834.1 L1166.1,834.8 L1167.2,832.6 L1168.3,828.3 L1169.4,826.4 L1169.9,824.9 L1170.4,822.2 L1170.9,819.9 L1171.4,816.5 L1171.9,819.0 L1172.3,821.9 L1172.7,823.2 L1173.2,827.0 L1173.7,829.5 L1175.2,827.7 L1176.9,824.8 L1177.7,823.2 L1178.6,820.1 L1179.4,815.6 L1180.2,813.1 L1182.3,812.7 L1184.4,810.6 L1185.5,813.7 L1186.6,815.9 L1187.7,816.5 L1189.4,815.8 L1191.0,814.0 L1193.3,811.4 L1195.5,809.8 L1196.0,813.6 L1196.4,813.7 L1196.8,818.0 L1197.3,820.3 L1197.7,823.1 L1198.8,827.0 L1199.9,829.0 L1201.0,831.4 L1202.1,832.7 L1203.2,834.9 L1204.3,838.1 L1205.4,839.5 L1206.6,844.4 L1207.7,846.4 L1210.2,848.1 L1212.7,848.1 L1215.1,846.0 L1217.6,844.7 L1220.1,845.6 L1222.6,848.1 L1223.9,850.7 L1224.9,851.9 L1225.7,849.6 L1226.2,848.1 L1226.7,845.1 L1227.3,843.1 L1228.5,844.7 L1229.7,848.1 L1230.9,849.7 L1232.0,851.5 L1233.0,854.2 L1234.1,857.4 L1235.1,859.7 L1236.2,863.8 L1237.3,864.2 L1238.4,868.0 L1240.5,869.1 L1242.6,871.3 L1244.2,869.8 L1245.9,869.7 L1246.2,871.9 L1246.5,875.2 L1246.7,878.9 L1247.0,879.8 L1247.3,884.2 L1247.6,886.3 L1249.6,886.9 L1251.7,887.9 L1253.8,889.0 L1255.9,889.6 L1257.5,887.1 L1259.2,884.6 L1260.6,886.6 L1262.0,887.0 L1263.4,889.6 L1263.8,892.5 L1264.2,894.3 L1264.6,897.9 L1265.0,899.5 L1266.7,897.4 L1268.3,894.6 L1269.1,892.1 L1270.0,891.6 L1270.8,888.0 L1272.1,889.5 L1273.2,891.1 L1274.1,889.0 L1275.0,886.8 L1275.8,886.0 L1276.6,883.0 L1278.3,881.3 L1279.9,882.1 L1281.1,885.3 L1282.2,885.9 L1283.3,889.6 L1285.4,890.7 L1287.4,892.9 L1288.5,896.1 L1289.6,897.0 L1290.8,901.2 L1292.4,899.4 L1294.1,897.9 L1294.9,901.9 L1295.7,903.6 L1296.6,905.1 L1297.4,907.9 L1298.2,911.9 L1299.1,913.6 L1299.9,916.2 L1301.1,919.2 L1302.4,920.4 L1303.2,917.6 L1304.1,915.4 L1304.9,914.1 L1305.7,911.2 L1306.3,909.8 L1306.8,907.4 L1307.4,904.6 L1309.0,904.4 L1310.7,906.2 L1311.9,904.3 L1313.2,902.9 L1314.9,904.4 L1316.5,906.8 L1317.4,904.0 L1318.2,901.3 L1319.0,901.0 L1319.8,897.9 L1320.0,894.2 L1320.2,892.2 L1320.3,888.5 L1320.5,887.9 L1320.7,884.6 L1322.3,883.3 L1324.0,880.0 L1325.7,879.6 L1326.8,878.8 L1327.9,876.7 L1329.0,873.0 L1330.6,871.7 L1332.3,868.8 L1334.4,869.3 L1336.5,868.0 L1338.1,867.8 L1339.8,866.3 L1341.5,863.2 L1343.1,863.0 L1344.2,865.1 L1345.3,867.8 L1346.4,871.3 L1348.5,871.6 L1350.6,874.6 L1351.8,873.4 L1353.0,871.9 L1353.7,874.1 L1354.3,875.9 L1355.0,879.6 L1355.6,881.3 L1356.8,883.0 L1358.1,886.3 L1359.5,887.3 L1360.8,888.5 L1362.2,891.3 L1364.3,891.3 L1366.4,892.9 L1368.5,894.8 L1370.5,894.6 L1371.0,897.2 L1371.5,900.6 L1372.0,903.7 L1372.5,905.7 L1373.0,907.9 L1373.5,910.1 L1374.0,914.6 L1374.5,914.6 L1375.0,918.3 L1375.6,920.7 L1376.6,919.6 L1377.7,916.2 L1378.9,912.9 L1380.2,910.2 L1381.6,909.4 L1383.0,907.0 L1384.1,909.5 L1385.1,911.9 L1386.1,913.0 L1387.2,916.2 L1388.8,914.3 L1390.5,911.2 L1392.6,913.8 L1394.6,915.4 L1395.1,913.3 L1395.5,909.2 L1395.9,907.3 L1396.3,902.9 L1396.5,900.9 L1396.6,896.7 L1396.8,895.2 L1397.0,891.4 L1397.3,890.0 L1398.8,891.6 L1400.5,892.9 L1401.9,894.1 L1403.2,897.8 L1404.6,897.9 L1407.1,897.4 L1409.6,897.9 L1410.2,901.6 L1410.7,904.5 L1411.3,906.2 L1412.9,905.9 L1414.6,906.2 L1415.7,904.3 L1416.8,901.0 L1417.9,899.6 L1418.6,896.7 L1419.3,894.4 L1420.0,892.7 L1420.8,891.8 L1421.5,892.1 L1422.2,893.6 L1423.0,897.5 L1423.7,899.6 L1424.6,902.5 L1425.4,905.5 L1426.2,908.1 L1427.1,911.2 L1428.7,912.3 L1430.4,911.2 L1431.2,908.8 L1432.1,905.9 L1432.9,902.5 L1433.7,899.6 L1434.3,896.8 L1435.0,894.4 L1435.6,892.6 L1436.2,889.6 L1437.9,891.1 L1439.5,892.9 L1442.0,892.9 L1442.6,888.9 L1443.1,886.6 L1443.7,884.6 L1445.4,881.6 L1447.0,881.3 L1449.1,881.6 L1451.2,884.6 L1453.2,885.0 L1455.3,886.3 L1456.7,884.3 L1458.1,882.8 L1459.5,881.3 L1460.6,878.2 L1461.7,876.1 L1462.8,874.6 L1463.8,871.7 L1464.8,868.5 L1465.4,868.5 L1466.0,868.7 L1466.2,872.4 L1466.4,876.3 L1466.6,877.2 L1466.8,880.1 L1467.0,884.6 L1469.5,882.8 L1471.9,881.3 L1472.8,879.7 L1473.6,876.2 L1474.4,873.0 L1476.1,871.8 L1477.8,871.3 L1479.2,875.5 L1480.5,877.4 L1481.9,879.6 L1483.6,882.3 L1485.2,883.0 L1486.6,882.3 L1488.0,878.3 L1489.4,878.0 L1491.1,876.2 L1492.7,876.3 L1494.1,875.0 L1495.5,871.6 L1496.9,869.7 L1498.3,872.5 L1499.7,871.7 L1501.0,874.6 L1501.7,878.9 L1502.3,880.8 L1502.9,883.1 L1503.5,886.3 L1504.9,885.6 L1506.3,883.1 L1507.7,881.3 L1508.8,878.4 L1509.9,874.8 L1511.0,873.0 L1512.1,871.6 L1513.2,867.5 L1514.3,866.3 L1516.8,865.7 L1519.3,866.3 L1520.7,866.8 L1522.1,868.2 L1523.5,871.3 L1524.9,873.5 L1526.3,875.5 L1527.6,879.6 L1528.9,881.2 L1530.1,883.0 L1531.5,879.7 L1532.9,876.0 L1534.3,874.6 L1535.7,872.9 L1537.1,870.7 L1538.4,869.7 L1540.5,867.2 L1542.6,866.3 L1545.1,865.2 L1547.6,863.8 L1549.2,861.3 L1550.9,859.7 L1551.7,855.6 L1552.6,855.4 L1553.4,851.4 L1555.5,851.1 L1557.6,848.1 L1558.8,844.5 L1560.1,843.0 L1561.3,841.2 L1562.1,842.9 L1562.8,844.8 L1563.5,848.6 L1564.2,851.2 L1565.9,849.0 L1567.5,848.1 L1570.0,846.4 L1570.8,843.5 L1571.7,841.8 L1572.5,839.7 L1573.3,836.2 L1574.2,834.5 L1574.9,833.5 L1576.1,837.3 L1577.2,839.4 L1578.3,841.4 L1579.6,839.2 L1580.8,838.1 L1582.1,837.9 L1583.3,835.5 L1584.1,837.0 L1585.0,841.3 L1585.8,843.1 L1586.4,845.0 L1587.0,849.2 L1587.7,850.4 L1588.3,853.0 L1589.4,856.4 L1590.5,856.4 L1591.6,859.7 L1594.1,860.2 L1596.6,861.4 L1598.3,858.4 L1599.9,856.4 L1600.3,854.5 L1600.7,852.1 L1601.1,847.3 L1601.5,845.5 L1602.1,845.3 L1602.5,844.6 L1603.0,846.7 L1603.5,849.4 L1604.1,853.0 L1605.7,853.4 L1607.4,856.4 L1609.5,857.4 L1611.6,859.7 L1612.8,861.1 L1614.1,863.0 L1615.2,861.6 L1616.4,858.2 L1617.6,855.8 L1618.8,851.9 L1620.0,849.8 L1621.2,847.2 L1622.5,845.3 L1623.7,843.5 L1625.3,841.5 L1626.9,841.0 L1627.7,842.5 L1628.5,846.2 L1629.4,849.8 L1630.4,848.6 L1631.4,843.4 L1632.5,842.3 L1634.3,841.1 L1636.2,839.8 L1637.0,841.1 L1637.9,844.7 L1638.7,846.0 L1640.3,842.8 L1641.8,842.3 L1642.3,839.6 L1642.9,837.6 L1643.4,834.1 L1643.9,830.4 L1644.4,829.9 L1645.2,827.7 L1645.6,827.4 L1646.2,832.8 L1646.8,835.3 L1647.4,838.2 L1648.0,838.8 L1648.7,837.8 L1649.3,833.2 L1649.9,830.8 L1650.5,827.2 L1651.2,824.5 L1652.0,822.2 L1652.9,823.2 L1654.0,827.1 L1655.1,828.0 L1656.1,829.9 L1657.0,828.3 L1657.9,823.8 L1658.8,820.8 L1659.6,820.3 L1660.6,816.3 L1661.8,817.8 L1663.0,819.9 L1664.3,822.3 L1666.8,825.0 L1669.2,824.8 L1669.9,828.6 L1670.5,830.0 L1671.1,834.3 L1671.9,836.2 L1673.0,834.8 L1674.2,832.6 L1675.5,829.8 L1677.4,826.6 L1679.2,824.8 L1680.0,827.0 L1680.8,831.8 L1681.6,833.5 L1682.4,835.6 L1683.6,833.7 L1684.8,831.6 L1686.1,828.6 L1688.3,830.0 L1690.4,829.8 L1692.6,827.6 L1694.8,827.3 L1695.3,825.4 L1695.8,821.8 L1696.3,818.0 L1696.8,815.8 L1697.3,813.6 L1698.2,812.3 L1699.2,809.0 L1700.1,806.4 L1701.0,802.4 L1703.5,800.5 L1706.0,798.6 L1707.1,796.6 L1708.2,793.4 L1709.3,791.9 L1710.4,788.7 L1710.8,791.7 L1711.2,794.1 L1711.6,798.8 L1712.1,800.3 L1712.5,801.8 L1712.9,806.1 L1713.5,809.6 L1714.1,809.9 L1714.8,813.0 L1715.4,816.0 L1716.0,818.6 L1717.6,820.2 L1719.1,823.5 L1720.4,820.9 L1721.6,818.4 L1722.9,816.1 L1723.5,813.3 L1724.1,810.7 L1724.7,807.4 L1726.6,807.6 L1728.5,806.8 L1730.6,805.1 L1732.8,806.1 L1733.6,802.6 L1734.3,799.5 L1735.1,797.4 L1735.8,795.0 L1736.5,794.4 L1737.6,796.4 L1738.6,796.8 L1739.7,801.1 L1740.9,799.6 L1742.2,795.1 L1743.4,793.7 L1744.3,791.5 L1745.1,788.9 L1745.9,784.9 L1746.2,789.5 L1746.5,791.4 L1746.9,793.0 L1747.2,796.8 L1747.5,800.3 L1747.8,804.2 L1748.1,808.2 L1748.4,809.9 L1748.6,808.0 L1748.8,802.5 L1749.0,799.7 L1749.1,798.2 L1749.3,793.9 L1749.5,792.0 L1749.7,788.7 L1750.6,786.0 L1751.5,783.4 L1752.4,781.7 L1753.3,783.1 L1754.2,787.7 L1755.0,788.8 L1755.9,792.4 L1757.8,791.4 L1759.6,791.2 L1760.9,792.6 L1762.1,795.5 L1763.4,798.6 L1765.9,796.9 L1768.4,797.4 L1770.5,798.4 L1772.7,798.6 L1773.5,800.0 L1774.3,803.5 L1775.1,808.0 L1775.8,809.9 L1776.7,813.4 L1777.5,814.4 L1778.3,817.4 L1778.8,815.6 L1779.2,813.3 L1779.6,810.3 L1780.0,807.4 L1780.8,804.9 L1781.6,802.5 L1782.3,798.4 L1783.1,796.2 L1783.9,793.6 L1784.8,791.3 L1785.6,789.9 L1786.2,791.6 L1786.9,795.0 L1787.5,797.5 L1788.1,799.9 L1788.7,796.5 L1789.4,793.7 L1790.0,791.0 L1790.6,789.9 L1791.4,787.2 L1792.2,786.2 L1794.3,786.3 L1796.5,788.4 L1798.5,789.5 L1800.6,789.9 L1802.3,788.8 L1804.1,785.9 L1805.9,783.7 L1807.6,785.1 L1809.3,785.6 L1810.1,787.4 L1811.0,788.5 L1811.8,791.8 L1813.4,793.8 L1814.9,794.3 L1815.9,797.8 L1817.0,798.6 L1818.0,802.4 L1818.3,805.0 L1818.6,809.2 L1819.0,812.4 L1819.3,814.9 L1819.9,816.7 L1820.5,820.5 L1822.1,819.2 L1823.6,818.6 L1825.8,819.2 L1828.0,820.5 L1829.9,823.0 L1831.7,825.2 L1833.3,828.5 L1834.9,829.8 L1837.0,828.9 L1839.2,830.1 L1840.1,826.8 L1840.9,825.4 L1841.7,821.1 L1842.3,817.4 L1843.0,814.7 L1843.6,813.0 L1844.1,816.4 L1844.5,818.4 L1845.0,820.4 L1845.5,823.0 L1845.8,826.0 L1846.2,827.9 L1846.6,832.7 L1847.0,835.4 L1847.5,832.2 L1848.1,830.3 L1848.6,828.0 L1849.0,826.8 L1849.5,823.0 L1850.0,820.2 L1850.4,818.0 L1851.1,815.3 L1851.7,812.8 L1852.3,811.1 L1852.9,809.9 L1853.6,808.0" fill="none" shape-rendering="crispEdges" stroke="#f00" stroke-width="6.6" stroke-linejoin="miter" stroke-miterlimit="4" />
<path d="M132.5,1178.9 L135.9,1175.3 L139.4,1171.8 L142.8,1168.4 L146.3,1164.9 L149.7,1161.5 L153.2,1158.1 L156.6,1154.7 L160.1,1151.4 L163.5,1148.1 L167.0,1144.8 L170.4,1141.6 L173.9,1138.3 L177.3,1135.1 L180.8,1132.0 L184.2,1128.8 L187.7,1125.7 L191.1,1122.6 L194.5,1119.6 L198.0,1116.5 L201.4,1113.5 L204.9,1110.6 L208.3,1107.6 L211.8,1104.7 L215.2,1101.8 L218.7,1098.9 L222.1,1096.1 L225.6,1093.3 L229.0,1090.5 L232.5,1087.7 L235.9,1085.0 L239.4,1082.3 L242.8,1079.6 L246.3,1076.9 L249.7,1074.3 L253.1,1071.7 L256.6,1069.1 L260.0,1066.6 L263.5,1064.1 L266.9,1061.6 L270.4,1059.1 L273.8,1056.6 L277.3,1054.2 L280.7,1051.8 L284.2,1049.4 L287.6,1047.1 L291.1,1044.7 L294.5,1042.4 L298.0,1040.2 L301.4,1037.9 L304.9,1035.7 L308.3,1033.5 L311.7,1031.3 L315.2,1029.1 L318.6,1027.0 L322.1,1024.9 L325.5,1022.8 L329.0,1020.7 L332.4,1018.7 L335.9,1016.6 L339.3,1014.6 L342.8,1012.7 L346.2,1010.7 L349.7,1008.8 L353.1,1006.8 L356.6,1004.9 L360.0,1003.1 L363.4,1001.2 L366.9,999.4 L370.3,997.6 L373.8,995.8 L377.2,994.0 L380.7,992.3 L384.1,990.5 L387.6,988.8 L391.0,987.1 L394.5,985.5 L397.9,983.8 L401.4,982.2 L404.8,980.6 L408.3,979.0 L411.7,977.4 L415.2,975.9 L418.6,974.3 L422.0,972.8 L425.5,971.3 L428.9,969.8 L432.4,968.3 L435.8,966.9 L439.3,965.5 L442.7,964.1 L446.2,962.7 L449.6,961.3 L453.1,959.9 L456.5,958.6 L460.0,957.2 L463.4,955.9 L466.9,954.6 L470.3,953.3 L473.8,952.1 L477.2,950.8 L480.6,949.6 L484.1,948.4 L487.5,947.1 L491.0,946.0 L494.4,944.8 L497.9,943.6 L501.3,942.5 L504.8,941.3 L508.2,940.2 L511.7,939.1 L515.1,938.0 L518.6,936.9 L522.0,935.9 L525.5,934.8 L528.9,933.8 L532.4,932.8 L535.8,931.7 L539.2,930.7 L542.7,929.8 L546.1,928.8 L549.6,927.8 L553.0,926.9 L556.5,925.9 L559.9,925.0 L563.4,924.1 L566.8,923.2 L570.3,922.3 L573.7,921.4 L577.2,920.6 L580.6,919.7 L584.1,918.9 L587.5,918.0 L591.0,917.2 L594.4,916.4 L597.8,915.6 L601.3,914.8 L604.7,914.0 L608.2,913.2 L611.6,912.5 L615.1,911.7 L618.5,911.0 L622.0,910.2 L625.4,909.5 L628.9,908.8 L632.3,908.1 L635.8,907.4 L639.2,906.7 L642.7,906.0 L646.1,905.4 L649.5,904.7 L653.0,904.1 L656.4,903.4 L659.9,902.8 L663.3,902.2 L666.8,901.5 L670.2,900.9 L673.7,900.3 L677.1,899.7 L680.6,899.2 L684.0,898.6 L687.5,898.0 L690.9,897.5 L694.4,896.9 L697.8,896.4 L701.3,895.8 L704.7,895.3 L708.1,894.8 L711.6,894.2 L715.0,893.7 L718.5,893.2 L721.9,892.7 L725.4,892.2 L728.8,891.8 L732.3,891.3 L735.7,890.8 L739.2,890.3 L742.6,889.9 L746.1,889.4 L749.5,889.0 L753.0,888.5 L756.4,888.1 L759.9,887.7 L763.3,887.3 L766.7,886.8 L770.2,886.4 L773.6,886.0 L777.1,885.6 L780.5,885.2 L784.0,884.8 L787.4,884.4 L790.9,884.1 L794.3,883.7 L797.8,883.3 L801.2,883.0 L804.7,882.6 L808.1,882.2 L811.6,881.9 L815.0,881.6 L818.5,881.2 L821.9,880.9 L825.3,880.6 L828.8,880.2 L832.2,879.9 L835.7,879.6 L839.1,879.3 L842.6,879.0 L846.0,878.7 L849.5,878.4 L852.9,878.1 L856.4,877.8 L859.8,877.5 L863.3,877.2 L866.7,876.9 L870.2,876.6 L873.6,876.4 L877.1,876.1 L880.5,875.8 L883.9,875.6 L887.4,875.3 L890.8,875.1 L894.3,874.8 L897.7,874.6 L901.2,874.3 L904.6,874.1 L908.1,873.8 L911.5,873.6 L915.0,873.4 L918.4,873.1 L921.9,872.9 L925.3,872.7 L928.8,872.5 L932.2,872.3 L935.7,872.1 L939.1,871.8 L942.5,871.6 L946.0,871.4 L949.4,871.2 L952.9,871.0 L956.3,870.8 L959.8,870.6 L963.2,870.5 L966.7,870.3 L970.1,870.1 L973.6,869.9 L977.0,869.7 L980.5,869.5 L983.9,869.4 L987.4,869.2 L990.8,869.0 L994.2,868.9 L997.7,868.7 L1001.1,868.5 L1004.6,868.4 L1008.0,868.2 L1011.5,868.1 L1014.9,867.9 L1018.4,867.7 L1021.8,867.6 L1025.3,867.4 L1028.7,867.3 L1032.2,867.2 L1035.6,867.0 L1039.1,866.9 L1042.5,866.7 L1046.0,866.6 L1049.4,866.5 L1052.8,866.3 L1056.3,866.2 L1059.7,866.1 L1063.2,865.9 L1066.6,865.8 L1070.1,865.7 L1073.5,865.6 L1077.0,865.5 L1080.4,865.3 L1083.9,865.2 L1087.3,865.1 L1090.8,865.0 L1094.2,864.9 L1097.7,864.8 L1101.1,864.7 L1104.6,864.6 L1108.0,864.4 L1111.4,864.3 L1114.9,864.2 L1118.3,864.1 L1121.8,864.0 L1125.2,863.9 L1128.7,863.8 L1132.1,863.7 L1135.6,863.7 L1139.0,863.6 L1142.5,863.5 L1145.9,863.4 L1149.4,863.3 L1152.8,863.2 L1156.3,863.1 L1159.7,863.0 L1163.2,862.9 L1166.6,862.9 L1170.0,862.8 L1173.5,862.7 L1176.9,862.6 L1180.4,862.5 L1183.8,862.5 L1187.3,862.4 L1190.7,862.3 L1194.2,862.2 L1197.6,862.2 L1201.1,862.1 L1204.5,862.0 L1208.0,861.9 L1211.4,861.9 L1214.9,861.8 L1218.3,861.7 L1221.8,861.7 L1225.2,861.6 L1228.6,861.5 L1232.1,861.5 L1235.5,861.4 L1239.0,861.3 L1242.4,861.3 L1245.9,861.2 L1249.3,861.2 L1252.8,861.1 L1256.2,861.0 L1259.7,861.0 L1263.1,860.9 L1266.6,860.9 L1270.0,860.8 L1273.5,860.8 L1276.9,860.7 L1280.4,860.7 L1283.8,860.6 L1287.2,860.6 L1290.7,860.5 L1294.1,860.5 L1297.6,860.4 L1301.0,860.4 L1304.5,860.3 L1307.9,860.3 L1311.4,860.2 L1314.8,860.2 L1318.3,860.1 L1321.7,860.1 L1325.2,860.0 L1328.6,860.0 L1332.1,860.0 L1335.5,859.9 L1339.0,859.9 L1342.4,859.8 L1345.8,859.8 L1349.3,859.7 L1352.7,859.7 L1356.2,859.7 L1359.6,859.6 L1363.1,859.6 L1366.5,859.6 L1370.0,859.5 L1373.4,859.5 L1376.9,859.4 L1380.3,859.4 L1383.8,859.4 L1387.2,859.3 L1390.7,859.3 L1394.1,859.3 L1397.5,859.2 L1401.0,859.2 L1404.4,859.2 L1407.9,859.1 L1411.3,859.1 L1414.8,859.1 L1418.2,859.1 L1421.7,859.0 L1425.1,859.0 L1428.6,859.0 L1432.0,858.9 L1435.5,858.9 L1438.9,858.9 L1442.4,858.9 L1445.8,858.8 L1449.3,858.8 L1452.7,858.8 L1456.1,858.7 L1459.6,858.7 L1463.0,858.7 L1466.5,858.7 L1469.9,858.6 L1473.4,858.6 L1476.8,858.6 L1480.3,858.6 L1483.7,858.6 L1487.2,858.5 L1490.6,858.5 L1494.1,858.5 L1497.5,858.5 L1501.0,858.4 L1504.4,858.4 L1507.9,858.4 L1511.3,858.4 L1514.7,858.4 L1518.2,858.3 L1521.6,858.3 L1525.1,858.3 L1528.5,858.3 L1532.0,858.3 L1535.4,858.2 L1538.9,858.2 L1542.3,858.2 L1545.8,858.2 L1549.2,858.2 L1552.7,858.2 L1556.1,858.1 L1559.6,858.1 L1563.0,858.1 L1566.5,858.1 L1569.9,858.1 L1573.3,858.0 L1576.8,858.0 L1580.2,858.0 L1583.7,858.0 L1587.1,858.0 L1590.6,858.0 L1594.0,858.0 L1597.5,857.9 L1600.9,857.9 L1604.4,857.9 L1607.8,857.9 L1611.3,857.9 L1614.7,857.9 L1618.2,857.9 L1621.6,857.8 L1625.1,857.8 L1628.5,857.8 L1631.9,857.8 L1635.4,857.8 L1638.8,857.8 L1642.3,857.8 L1645.7,857.8 L1649.2,857.7 L1652.6,857.7 L1656.1,857.7 L1659.5,857.7 L1663.0,857.7 L1666.4,857.7 L1669.9,857.7 L1673.3,857.7 L1676.8,857.7 L1680.2,857.6 L1683.7,857.6 L1687.1,857.6 L1690.5,857.6 L1694.0,857.6 L1697.4,857.6 L1700.9,857.6 L1704.3,857.6 L1707.8,857.6 L1711.2,857.6 L1714.7,857.5 L1718.1,857.5 L1721.6,857.5 L1725.0,857.5 L1728.5,857.5 L1731.9,857.5 L1735.4,857.5 L1738.8,857.5 L1742.2,857.5 L1745.7,857.5 L1749.1,857.5 L1752.6,857.5 L1756.0,857.4 L1759.5,857.4 L1762.9,857.4 L1766.4,857.4 L1769.8,857.4 L1773.3,857.4 L1776.7,857.4 L1780.2,857.4 L1783.6,857.4 L1787.1,857.4 L1790.5,857.4 L1794.0,857.4 L1797.4,857.4 L1800.8,857.4 L1804.3,857.3 L1807.7,857.3 L1811.2,857.3 L1814.6,857.3 L1818.1,857.3 L1821.5,857.3 L1825.0,857.3 L1828.4,857.3 L1831.9,857.3 L1835.3,857.3 L1838.8,857.3 L1842.2,857.3 L1845.7,857.3 L1849.1,857.3 L1852.6,857.3 L1856.0,857.3" fill="none" shape-rendering="crispEdges" stroke="#000" stroke-width="6" stroke-linejoin="miter" stroke-miterlimit="4" stroke-dasharray="27.3 14.05" stroke-dashoffset="0.5"/>
<path d="M132.5,212.9 L135.9,219.9 L139.4,227.0 L142.8,233.9 L146.3,240.8 L149.7,247.6 L153.2,254.4 L156.6,261.2 L160.1,267.8 L163.5,274.4 L167.0,281.0 L170.4,287.5 L173.9,294.0 L177.3,300.4 L180.8,306.7 L184.2,313.0 L187.7,319.2 L191.1,325.4 L194.5,331.5 L198.0,337.6 L201.4,343.6 L204.9,349.5 L208.3,355.4 L211.8,361.3 L215.2,367.0 L218.7,372.8 L222.1,378.5 L225.6,384.1 L229.0,389.7 L232.5,395.2 L235.9,400.7 L239.4,406.1 L242.8,411.4 L246.3,416.8 L249.7,422.0 L253.1,427.2 L256.6,432.4 L260.0,437.5 L263.5,442.5 L266.9,447.5 L270.4,452.5 L273.8,457.4 L277.3,462.2 L280.7,467.0 L284.2,471.8 L287.6,476.5 L291.1,481.2 L294.5,485.8 L298.0,490.3 L301.4,494.8 L304.9,499.3 L308.3,503.7 L311.7,508.1 L315.2,512.4 L318.6,516.7 L322.1,520.9 L325.5,525.1 L329.0,529.2 L332.4,533.3 L335.9,537.4 L339.3,541.4 L342.8,545.3 L346.2,549.3 L349.7,553.1 L353.1,557.0 L356.6,560.7 L360.0,564.5 L363.4,568.2 L366.9,571.9 L370.3,575.5 L373.8,579.1 L377.2,582.6 L380.7,586.1 L384.1,589.5 L387.6,593.0 L391.0,596.3 L394.5,599.7 L397.9,603.0 L401.4,606.2 L404.8,609.5 L408.3,612.7 L411.7,615.8 L415.2,618.9 L418.6,622.0 L422.0,625.0 L425.5,628.0 L428.9,631.0 L432.4,633.9 L435.8,636.8 L439.3,639.7 L442.7,642.5 L446.2,645.3 L449.6,648.1 L453.1,650.8 L456.5,653.5 L460.0,656.2 L463.4,658.8 L466.9,661.4 L470.3,664.0 L473.8,666.5 L477.2,669.0 L480.6,671.5 L484.1,673.9 L487.5,676.4 L491.0,678.7 L494.4,681.1 L497.9,683.4 L501.3,685.7 L504.8,688.0 L508.2,690.2 L511.7,692.4 L515.1,694.6 L518.6,696.8 L522.0,698.9 L525.5,701.0 L528.9,703.1 L532.4,705.1 L535.8,707.2 L539.2,709.2 L542.7,711.1 L546.1,713.1 L549.6,715.0 L553.0,716.9 L556.5,718.8 L559.9,720.6 L563.4,722.5 L566.8,724.3 L570.3,726.0 L573.7,727.8 L577.2,729.5 L580.6,731.2 L584.1,732.9 L587.5,734.6 L591.0,736.3 L594.4,737.9 L597.8,739.5 L601.3,741.1 L604.7,742.6 L608.2,744.2 L611.6,745.7 L615.1,747.2 L618.5,748.7 L622.0,750.2 L625.4,751.6 L628.9,753.0 L632.3,754.4 L635.8,755.8 L639.2,757.2 L642.7,758.6 L646.1,759.9 L649.5,761.2 L653.0,762.5 L656.4,763.8 L659.9,765.1 L663.3,766.3 L666.8,767.5 L670.2,768.8 L673.7,770.0 L677.1,771.1 L680.6,772.3 L684.0,773.5 L687.5,774.6 L690.9,775.7 L694.4,776.8 L697.8,777.9 L701.3,779.0 L704.7,780.1 L708.1,781.1 L711.6,782.2 L715.0,783.2 L718.5,784.2 L721.9,785.2 L725.4,786.2 L728.8,787.1 L732.3,788.1 L735.7,789.0 L739.2,790.0 L742.6,790.9 L746.1,791.8 L749.5,792.7 L753.0,793.6 L756.4,794.4 L759.9,795.3 L763.3,796.1 L766.7,797.0 L770.2,797.8 L773.6,798.6 L777.1,799.4 L780.5,800.2 L784.0,801.0 L787.4,801.7 L790.9,802.5 L794.3,803.2 L797.8,804.0 L801.2,804.7 L804.7,805.4 L808.1,806.1 L811.6,806.8 L815.0,807.5 L818.5,808.2 L821.9,808.9 L825.3,809.5 L828.8,810.2 L832.2,810.8 L835.7,811.5 L839.1,812.1 L842.6,812.7 L846.0,813.3 L849.5,813.9 L852.9,814.5 L856.4,815.1 L859.8,815.7 L863.3,816.2 L866.7,816.8 L870.2,817.4 L873.6,817.9 L877.1,818.4 L880.5,819.0 L883.9,819.5 L887.4,820.0 L890.8,820.5 L894.3,821.0 L897.7,821.5 L901.2,822.0 L904.6,822.5 L908.1,823.0 L911.5,823.4 L915.0,823.9 L918.4,824.3 L921.9,824.8 L925.3,825.2 L928.8,825.7 L932.2,826.1 L935.7,826.5 L939.1,827.0 L942.5,827.4 L946.0,827.8 L949.4,828.2 L952.9,828.6 L956.3,829.0 L959.8,829.3 L963.2,829.7 L966.7,830.1 L970.1,830.5 L973.6,830.8 L977.0,831.2 L980.5,831.6 L983.9,831.9 L987.4,832.2 L990.8,832.6 L994.2,832.9 L997.7,833.3 L1001.1,833.6 L1004.6,833.9 L1008.0,834.2 L1011.5,834.5 L1014.9,834.8 L1018.4,835.1 L1021.8,835.4 L1025.3,835.7 L1028.7,836.0 L1032.2,836.3 L1035.6,836.6 L1039.1,836.9 L1042.5,837.2 L1046.0,837.4 L1049.4,837.7 L1052.8,838.0 L1056.3,838.2 L1059.7,838.5 L1063.2,838.7 L1066.6,839.0 L1070.1,839.2 L1073.5,839.5 L1077.0,839.7 L1080.4,840.0 L1083.9,840.2 L1087.3,840.4 L1090.8,840.7 L1094.2,840.9 L1097.7,841.1 L1101.1,841.3 L1104.6,841.5 L1108.0,841.7 L1111.4,842.0 L1114.9,842.2 L1118.3,842.4 L1121.8,842.6 L1125.2,842.8 L1128.7,843.0 L1132.1,843.1 L1135.6,843.3 L1139.0,843.5 L1142.5,843.7 L1145.9,843.9 L1149.4,844.1 L1152.8,844.2 L1156.3,844.4 L1159.7,844.6 L1163.2,844.8 L1166.6,844.9 L1170.0,845.1 L1173.5,845.3 L1176.9,845.4 L1180.4,845.6 L1183.8,845.7 L1187.3,845.9 L1190.7,846.0 L1194.2,846.2 L1197.6,846.3 L1201.1,846.5 L1204.5,846.6 L1208.0,846.8 L1211.4,846.9 L1214.9,847.0 L1218.3,847.2 L1221.8,847.3 L1225.2,847.4 L1228.6,847.6 L1232.1,847.7 L1235.5,847.8 L1239.0,847.9 L1242.4,848.1 L1245.9,848.2 L1249.3,848.3 L1252.8,848.4 L1256.2,848.5 L1259.7,848.7 L1263.1,848.8 L1266.6,848.9 L1270.0,849.0 L1273.5,849.1 L1276.9,849.2 L1280.4,849.3 L1283.8,849.4 L1287.2,849.5 L1290.7,849.6 L1294.1,849.7 L1297.6,849.8 L1301.0,849.9 L1304.5,850.0 L1307.9,850.1 L1311.4,850.2 L1314.8,850.3 L1318.3,850.4 L1321.7,850.5 L1325.2,850.6 L1328.6,850.6 L1332.1,850.7 L1335.5,850.8 L1339.0,850.9 L1342.4,851.0 L1345.8,851.1 L1349.3,851.1 L1352.7,851.2 L1356.2,851.3 L1359.6,851.4 L1363.1,851.5 L1366.5,851.5 L1370.0,851.6 L1373.4,851.7 L1376.9,851.7 L1380.3,851.8 L1383.8,851.9 L1387.2,852.0 L1390.7,852.0 L1394.1,852.1 L1397.5,852.2 L1401.0,852.2 L1404.4,852.3 L1407.9,852.3 L1411.3,852.4 L1414.8,852.5 L1418.2,852.5 L1421.7,852.6 L1425.1,852.6 L1428.6,852.7 L1432.0,852.8 L1435.5,852.8 L1438.9,852.9 L1442.4,852.9 L1445.8,853.0 L1449.3,853.0 L1452.7,853.1 L1456.1,853.1 L1459.6,853.2 L1463.0,853.2 L1466.5,853.3 L1469.9,853.3 L1473.4,853.4 L1476.8,853.4 L1480.3,853.5 L1483.7,853.5 L1487.2,853.6 L1490.6,853.6 L1494.1,853.7 L1497.5,853.7 L1501.0,853.8 L1504.4,853.8 L1507.9,853.8 L1511.3,853.9 L1514.7,853.9 L1518.2,854.0 L1521.6,854.0 L1525.1,854.0 L1528.5,854.1 L1532.0,854.1 L1535.4,854.2 L1538.9,854.2 L1542.3,854.2 L1545.8,854.3 L1549.2,854.3 L1552.7,854.3 L1556.1,854.4 L1559.6,854.4 L1563.0,854.4 L1566.5,854.5 L1569.9,854.5 L1573.3,854.5 L1576.8,854.6 L1580.2,854.6 L1583.7,854.6 L1587.1,854.7 L1590.6,854.7 L1594.0,854.7 L1597.5,854.8 L1600.9,854.8 L1604.4,854.8 L1607.8,854.8 L1611.3,854.9 L1614.7,854.9 L1618.2,854.9 L1621.6,855.0 L1625.1,855.0 L1628.5,855.0 L1631.9,855.0 L1635.4,855.1 L1638.8,855.1 L1642.3,855.1 L1645.7,855.1 L1649.2,855.2 L1652.6,855.2 L1656.1,855.2 L1659.5,855.2 L1663.0,855.2 L1666.4,855.3 L1669.9,855.3 L1673.3,855.3 L1676.8,855.3 L1680.2,855.4 L1683.7,855.4 L1687.1,855.4 L1690.5,855.4 L1694.0,855.4 L1697.4,855.5 L1700.9,855.5 L1704.3,855.5 L1707.8,855.5 L1711.2,855.5 L1714.7,855.5 L1718.1,855.6 L1721.6,855.6 L1725.0,855.6 L1728.5,855.6 L1731.9,855.6 L1735.4,855.7 L1738.8,855.7 L1742.2,855.7 L1745.7,855.7 L1749.1,855.7 L1752.6,855.7 L1756.0,855.7 L1759.5,855.8 L1762.9,855.8 L1766.4,855.8 L1769.8,855.8 L1773.3,855.8 L1776.7,855.8 L1780.2,855.9 L1783.6,855.9 L1787.1,855.9 L1790.5,855.9 L1794.0,855.9 L1797.4,855.9 L1800.8,855.9 L1804.3,855.9 L1807.7,856.0 L1811.2,856.0 L1814.6,856.0 L1818.1,856.0 L1821.5,856.0 L1825.0,856.0 L1828.4,856.0 L1831.9,856.0 L1835.3,856.1 L1838.8,856.1 L1842.2,856.1 L1845.7,856.1 L1849.1,856.1 L1852.6,856.1 L1856.0,856.1" fill="none" shape-rendering="crispEdges" stroke="#f00" stroke-width="6" stroke-linejoin="miter" stroke-miterlimit="4" stroke-dasharray="27.3 14.05" stroke-dashoffset="0"/>
</g>
<g fill="#000" shape-rendering="crispEdges">
<path d="M130,49 H1858 L1859,50 V1262 L1858,1263 H130 L129,1262 V50 Z M135,55 V1256 H1853 V55 Z" fill-rule="evenodd"/>
<path d="M135,130 h15 v6 h-15 z M1838,130 h15 v6 h-15 z M135,210 h32 v6 h-32 z M1821,210 h32 v6 h-32 z M135,291 h15 v6 h-15 z M1838,291 h15 v6 h-15 z M135,371 h32 v6 h-32 z M1821,371 h32 v6 h-32 z M135,452 h15 v6 h-15 z M1838,452 h15 v6 h-15 z M135,532 h32 v6 h-32 z M1821,532 h32 v6 h-32 z M135,613 h15 v6 h-15 z M1838,613 h15 v6 h-15 z M135,693 h32 v6 h-32 z M1821,693 h32 v6 h-32 z M135,774 h15 v6 h-15 z M1838,774 h15 v6 h-15 z M135,854 h32 v6 h-32 z M1821,854 h32 v6 h-32 z M135,935 h15 v6 h-15 z M1838,935 h15 v6 h-15 z M135,1015 h32 v6 h-32 z M1821,1015 h32 v6 h-32 z M135,1096 h15 v6 h-15 z M1838,1096 h15 v6 h-15 z M135,1176 h32 v6 h-32 z M1821,1176 h32 v6 h-32 z M416,55 h6 v15 h-6 z M416,1241 h6 v15 h-6 z M704,55 h6 v32 h-6 z M704,1224 h6 v32 h-6 z M991,55 h6 v15 h-6 z M991,1241 h6 v15 h-6 z M1278,55 h6 v32 h-6 z M1278,1224 h6 v32 h-6 z M1566,55 h6 v15 h-6 z M1566,1241 h6 v15 h-6 z"/>
</g>
<text transform="translate(118.0 1204.0) scale(0.975 1.03)" font-size="73.5px" text-anchor="end">0.6</text>
<text transform="translate(118.0 1043.0) scale(0.975 1.03)" font-size="73.5px" text-anchor="end">0.8</text>
<text transform="translate(118.0 882.0) scale(0.975 1.03)" font-size="73.5px" text-anchor="end">1</text>
<text transform="translate(118.0 721.0) scale(0.975 1.03)" font-size="73.5px" text-anchor="end">1.2</text>
<text transform="translate(118.0 560.0) scale(0.975 1.03)" font-size="73.5px" text-anchor="end">1.4</text>
<text transform="translate(118.0 399.0) scale(0.975 1.03)" font-size="73.5px" text-anchor="end">1.6</text>
<text transform="translate(118.0 238.0) scale(0.975 1.03)" font-size="73.5px" text-anchor="end">1.8</text>
<text transform="translate(118.0 77.0) scale(0.975 1.03)" font-size="73.5px" text-anchor="end">2</text>
<text transform="translate(132.7 1326.2) scale(1 1.03)" font-size="73.5px" text-anchor="middle">0</text>
<text transform="translate(707.4 1326.2) scale(1 1.03)" font-size="73.5px" text-anchor="middle">250</text>
<text transform="translate(1282.0 1326.2) scale(1 1.03)" font-size="73.5px" text-anchor="middle">500</text>
<text transform="translate(1856.7 1326.2) scale(1 1.03)" font-size="73.5px" text-anchor="middle">750</text>
<text transform="translate(861.0 1401.6) scale(0.97 1.02)" font-size="85px" text-anchor="start">tv</text>
<text transform="translate(926.0 1436.0) scale(1 1.02)" font-size="60px" text-anchor="start">0</text>
<text transform="translate(956.0 1401.6) scale(0.995 1.02)" font-size="85px" text-anchor="start">(0)/</text>
<text transform="translate(1078.5 1402.2) scale(1.13 1)" font-size="85px" text-anchor="start" stroke="#000" stroke-width="1.0">σ</text>
<rect x="1358" y="205" width="70" height="6" fill="#000" shape-rendering="crispEdges"/>
<rect x="1358" y="320" width="70" height="6" fill="#f00" shape-rendering="crispEdges"/>
<text transform="translate(1461.5 212.8) scale(1 1.02)" font-size="85px" text-anchor="start">T</text>
<text transform="translate(1514.0 247.3) scale(1 1.02)" font-size="60px" text-anchor="start">xy</text>
<text transform="translate(1573.0 212.8) scale(0.992 1.02)" font-size="85px" text-anchor="start">/T(0)</text>
<text transform="translate(1461.5 334.8) scale(1 1.02)" font-size="85px" text-anchor="start">T</text>
<text transform="translate(1514.5 369.0) scale(1 1.02)" font-size="60px" text-anchor="start">z</text>
<text transform="translate(1539.5 334.8) scale(0.992 1.02)" font-size="85px" text-anchor="start">/T(0)</text>
</svg></body></html>
